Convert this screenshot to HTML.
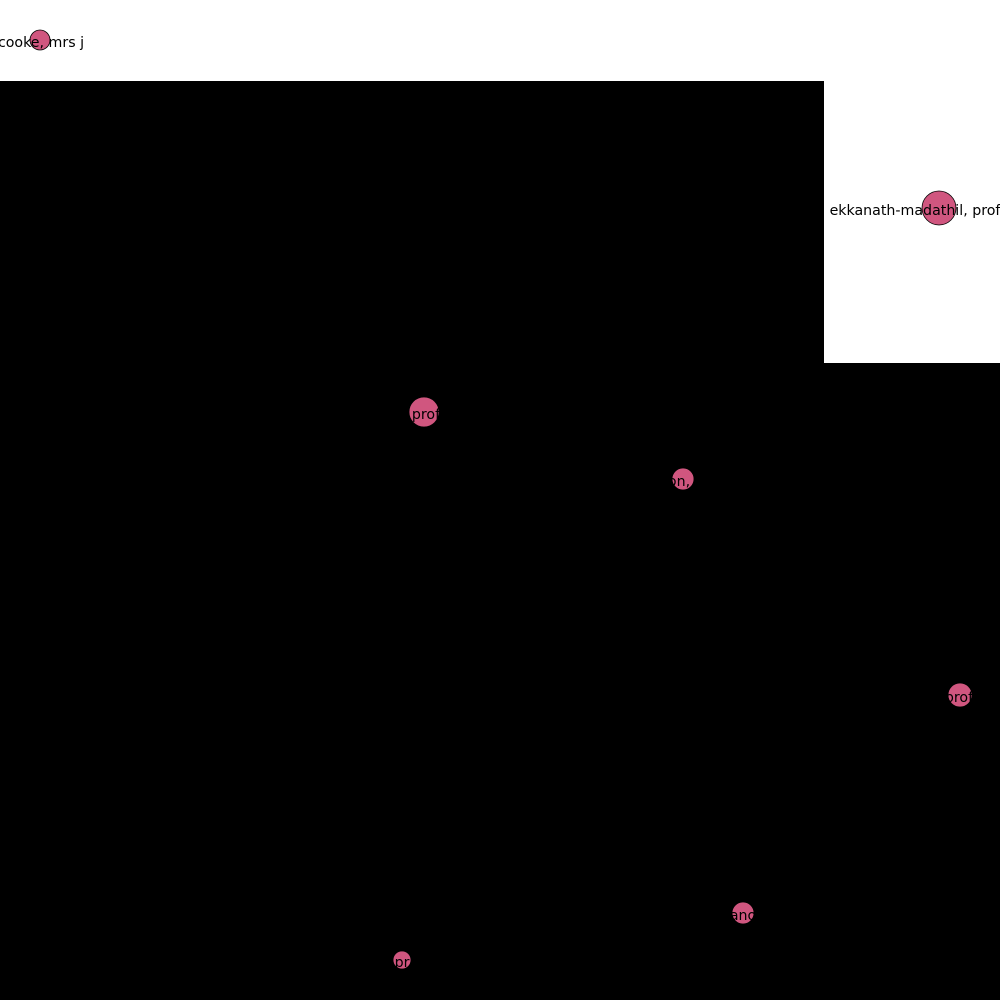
<!DOCTYPE html>
<html><head><meta charset="utf-8"><style>
html,body{margin:0;padding:0;background:#fff;}
svg{display:block;}
text{font-family:"DejaVu Sans","Liberation Sans",sans-serif;font-size:14.2px;fill:#000;}
</style></head><body>
<svg id="chart" width="1000" height="1000" viewBox="0 0 1000 1000" xmlns="http://www.w3.org/2000/svg">
<rect x="0" y="0" width="1000" height="1000" fill="#fff"/>
<path d="M0 81 H824 V363 H1000 V1000 H0 Z" fill="#000"/>
<g id="nodes"></g>
</svg>
<script>
const nodeLabels = ["cooke, mrs j","ekkanath-madathil, prof","prof","on,","prof","ano","pr"];
const nodeX = [40, 939, 424, 683, 960, 743, 402];
const nodeY = [40, 208, 412, 479, 695, 913, 960];
const nodeSize = [10, 17, 15, 11, 12, 11, 9];
const labelX = [41, 915, 426, 679, 959, 743, 402];
const NS = "http://www.w3.org/2000/svg";
const g = document.getElementById('nodes');
for (let i = 0; i < nodeLabels.length; i++) {
  const c = document.createElementNS(NS, 'circle');
  
  
  c.setAttribute('cx', nodeX[i]);
  c.setAttribute('cy', nodeY[i]);
  c.setAttribute('r', nodeSize[i]);
  c.setAttribute('fill', '#d0567f');
  c.setAttribute('stroke', '#000');
  c.setAttribute('stroke-width', '0.8');
  g.appendChild(c);
  const t = document.createElementNS(NS, 'text');
  
  
  t.setAttribute('x', labelX[i]);
  t.setAttribute('y', nodeY[i] + 7);
  t.setAttribute('text-anchor', 'middle');
  t.textContent = nodeLabels[i];
  g.appendChild(t);
}
</script>
</body></html>
